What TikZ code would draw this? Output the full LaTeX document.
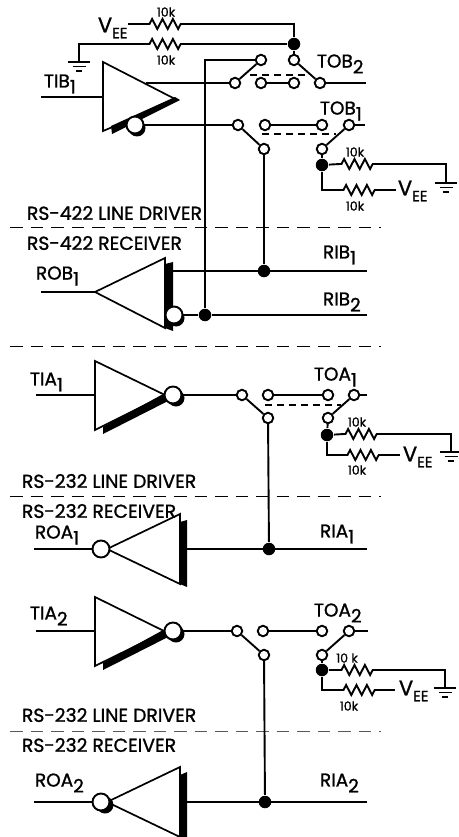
\documentclass[tikz,border=0pt]{standalone}
\usepackage{fontspec}
\setmainfont{Poppins}[FakeBold=1.2]
\usetikzlibrary{decorations.pathmorphing}
\newcommand{\lowsub}[2]{#1\raisebox{-6pt}{#2}}
\newcommand{\veelabel}{V\raisebox{-6pt}{\fontsize{15}{15}\selectfont EE}}

\begin{document}
\begin{tikzpicture}[
    x=1pt, y=-1pt,
    line width=1.9pt,
    terminal/.style={circle, draw, fill=white, inner sep=0, minimum size=10.5pt},
    jdot/.style={circle, fill=black, inner sep=0, minimum size=12.5pt},
    bubble/.style={circle, draw, fill=white, line width=1.9pt, inner sep=0, minimum size=17pt},
    shadow/.style={circle, fill=black, inner sep=0, minimum size=17pt},
    pin/.style={anchor=west, inner sep=0, font=\fontsize{18.5}{18}\selectfont},
    vee/.style={anchor=west, inner sep=0, font=\fontsize{21}{21}\selectfont},
    sect/.style={anchor=west, inner sep=0, font=\fontsize{18.8}{18}\selectfont},
    rval/.style={inner sep=0, font=\fontsize{12.5}{12}\selectfont},
    res/.style={decorate, decoration={zigzag, segment length=10.4, amplitude=5, pre length=1.5, post length=1.5}},
    gang/.style={dash pattern=on 7pt off 5pt},
    divider/.style={line width=0.9pt, dash pattern=on 12.5pt off 8pt},
    amp/.style={fill=white, line width=1.7pt, line join=miter},
    gnd/.pic={\draw (-11,0) -- (11,0) (-6.5,4.5) -- (6.5,4.5) (-3,9) -- (3,9);}
]
\useasboundingbox (0,0) rectangle (458,837);

% Section dividers
\draw[divider] (10,227.5) -- (381,227.5);
\draw[divider] (10,346.5) -- (381,346.5);
\draw[divider] (10,496) -- (381,496);
\draw[divider, black!65] (10,731) -- (381,731);

% RS-422 line driver
\coordinate (tibIn) at (41,97);
\coordinate (tibA) at (103,97);
\coordinate (tibOut) at (146,83);
\node[terminal] (tb1) at (235,83) {};
\node[terminal] (tb2) at (261,60) {};
\node[terminal] (tb3) at (261,83) {};
\node[terminal] (tb4) at (294,83) {};
\node[terminal] (tb5) at (294,60) {};
\node[terminal] (tb6) at (320,83) {};
\node[terminal] (tc1) at (238,125) {};
\node[terminal] (tc2) at (265,125) {};
\node[terminal] (tc3) at (264,149) {};
\node[terminal] (tc4) at (322,125) {};
\node[terminal] (tc5) at (349,125) {};
\node[terminal] (tc6) at (322,149) {};
\node[jdot] (dvee) at (294,44) {};
\node[jdot] (dout) at (322,165) {};
\node[jdot] (drib) at (264,271) {};
\node[jdot] (drbb) at (205,315) {};
\coordinate (tobOut) at (366,83);
\coordinate (tocOut) at (365,125);
\coordinate (ribOut) at (367,271);
\coordinate (rbbOut) at (367,315);
\coordinate (rbA) at (173,271);
\coordinate (ronIn) at (41,292);
\coordinate (ronA) at (95,292);

\draw (tibIn) -- (tibA);
\draw (tibOut) -- (tb1);
\draw (tb1) -- (tb2);
\draw (tb3) -- (tb4);
\draw (tb5) -- (tb6);
\draw (tb6) -- (tobOut);
\draw (tb5) -- (dvee);
\draw (tb2) -| (drbb);
\draw (tc1) -- (tc3);
\draw (tc2) -- (tc4);
\draw (tc5) -- (tc6);
\draw (tc5) -- (tocOut);
\draw (tc6) -- (dout);
\draw (tc3) -- (drib);
\draw (rbA) -- (ribOut);
\draw (ronIn) -- (ronA);
\draw[gang] (250,75) -- (306,75);
\draw[gang] (262,134) -- (336,134);

% Top resistors
\node[vee] (veeA) at (97,28) {\veelabel};
\coordinate (rAa) at (148,24);
\coordinate (rAb) at (185,24);
\coordinate (rBa) at (148,44);
\coordinate (rBb) at (186,44);
\coordinate (gndA) at (79,62);
\draw (128,24) -- (rAa);
\draw[res] (rAa) -- (rAb);
\draw (rAb) -| (dvee);
\draw (gndA) |- (rBa);
\draw[res] (rBa) -- (rBb);
\draw (rBb) -- (dvee);
\pic at (gndA) {gnd};
\node[rval] (lA) at (166,12) {10k};
\node[rval] (lB) at (166,60) {10k};

% Resistors at TOB1
\coordinate (rCa) at (340,164);
\coordinate (rCb) at (378,164);
\coordinate (rDa) at (342,190);
\coordinate (rDb) at (380,190);
\coordinate (gndB) at (446,183);
\draw (dout) -- (rCa);
\draw[res] (rCa) -- (rCb);
\draw (rCb) -| (gndB);
\draw (dout) |- (rDa);
\draw[res] (rDa) -- (rDb);
\draw (rDb) -- (396,190);
\pic at (gndB) {gnd};
\node[vee] (veeB) at (397,191) {\veelabel};
\node[rval] (lC) at (355,152) {10k};
\node[rval] (lD) at (355,206) {10k};

% RS-422 driver body
\draw[amp] (103,62) -- (177,100) -- (103,131) -- cycle;
\fill (111,126) -- (175,97) -- (180,100) -- (112,134) -- cycle;
\node[shadow] (bbS) at (137,128) {};
\node[bubble] (bb) at (135,125) {};
\draw (bb) -- (tc1);

% RS-422 receiver body
\draw[amp] (95,292) -- (165,258) -- (165,328) -- cycle;
\fill (165,264) -- (173,262) -- (173,331) -- (165,328) -- cycle;
\node[shadow] (brS) at (176,318) {};
\node[bubble] (br) at (174,315) {};
\draw (br) -- (drbb);
\draw (drbb) -- (rbbOut);

% TIA1 channel
\node[terminal] (ta1) at (242,395) {};
\node[terminal] (ta2) at (268,395) {};
\node[terminal] (ta3) at (268,418) {};
\node[terminal] (ta4) at (328,395) {};
\node[terminal] (ta5) at (354,395) {};
\node[terminal] (ta6) at (328,418) {};
\node[jdot] (daout) at (327,435) {};
\node[jdot] (dria) at (269,549) {};
\coordinate (rEa) at (344,434);
\coordinate (rEb) at (381,434);
\coordinate (rFa) at (346,455);
\coordinate (rFb) at (383,455);
\coordinate (gndC) at (451,452);
\draw (36,395) -- (95,395);
\draw (ta1) -- (ta3);
\draw (ta2) -- (ta4);
\draw (ta5) -- (ta6);
\draw (ta5) -- (367,395);
\draw (ta6) -- (daout);
\draw (ta3) -- (dria);
\draw (34,549) -- (92,549);
\draw (187,549) -- (367,549);
\draw[gang] (265,405) -- (341,405);
\draw (daout) -- (rEa);
\draw[res] (rEa) -- (rEb);
\draw (rEb) -| (gndC);
\draw (daout) |- (rFa);
\draw[res] (rFa) -- (rFb);
\draw (rFb) -- (400,455);
\pic at (gndC) {gnd};
\node[vee] (veeC) at (402,457) {\veelabel};
\node[rval] (lE) at (357,422) {10k};
\node[rval] (lF) at (357,470) {10k};
\draw[amp] (95,361) -- (165,395) -- (95,430) -- cycle;
\fill (103,427) -- (165,393) -- (172,399) -- (103,434) -- cycle;
\node[shadow] (baS) at (176,398) {};
\node[bubble] (ba) at (173,395) {};
\draw (ba) -- (ta1);

% ROA1 receiver body
\draw[amp] (107,549) -- (180,514) -- (180,584) -- cycle;
\fill (180,522) -- (187,520) -- (187,587) -- (180,584) -- cycle;
\node[bubble] (bc) at (101,549) {};

% TIA2 channel
\node[terminal] (te1) at (237,631) {};
\node[terminal] (te2) at (263,631) {};
\node[terminal] (te3) at (264,655) {};
\node[terminal] (te4) at (322,631) {};
\node[terminal] (te5) at (349,631) {};
\node[terminal] (te6) at (322,655) {};
\node[jdot] (deout) at (322,670) {};
\node[jdot] (drie) at (265,802) {};
\coordinate (rGa) at (340,670);
\coordinate (rGb) at (376,670);
\coordinate (rHa) at (342,690);
\coordinate (rHb) at (378,690);
\coordinate (gndD) at (445,688);
\draw (36,631) -- (95,631);
\draw (te1) -- (te3);
\draw (te2) -- (te4);
\draw (te5) -- (te6);
\draw (te5) -- (368,631);
\draw (te6) -- (deout);
\draw (te3) -- (drie);
\draw (34,802) -- (92,802);
\draw (187,802) -- (367,802);
\draw (deout) -- (rGa);
\draw[res] (rGa) -- (rGb);
\draw (rGb) -| (gndD);
\draw (deout) |- (rHa);
\draw[res] (rHa) -- (rHb);
\draw (rHb) -- (395,690);
\pic at (gndD) {gnd};
\node[vee] (veeD) at (398,691) {\veelabel};
\node[rval] (lG) at (347,658) {10 k};
\node[rval] (lH) at (349,706) {10k};
\draw[amp] (95,597) -- (165,631.5) -- (95,666) -- cycle;
\fill (103,663) -- (165,629) -- (172,635) -- (103,670) -- cycle;
\node[shadow] (bdS) at (176,634) {};
\node[bubble] (bd) at (173,631) {};
\draw (bd) -- (te1);

% ROA2 receiver body
\draw[amp] (107,802) -- (180,767) -- (180,837) -- cycle;
\fill (180,775) -- (187,772) -- (187,837) -- (180,837) -- cycle;
\node[shadow] (bfS) at (105,805) {};
\node[bubble] (bf) at (101,802) {};

% Section labels
\node[sect] (s1) at (26,213) {RS-422 LINE DRIVER};
\node[sect] (s2) at (26,243) {RS-422 RECEIVER};
\node[sect] (s3) at (21,481) {RS-232 LINE DRIVER};
\node[sect] (s4) at (21,511) {RS-232 RECEIVER};
\node[sect] (s5) at (21,715) {RS-232 LINE DRIVER};
\node[sect] (s6) at (21,745) {RS-232 RECEIVER};

% Pin labels
\node[pin] (tib) at (43,84) {\lowsub{TIB}{1}};
\node[pin] (tobB) at (316,64) {\lowsub{TOB}{2}};
\node[pin] (tobA) at (319,111) {\lowsub{TOB}{1}};
\node[pin] (rob) at (35,276) {\lowsub{ROB}{1}};
\node[pin] (ribA) at (322,255) {\lowsub{RIB}{1}};
\node[pin] (ribB) at (322,302) {\lowsub{RIB}{2}};
\node[pin] (tiaA) at (29,382) {\lowsub{TIA}{1}};
\node[pin] (toaA) at (313,377) {\lowsub{TOA}{1}};
\node[pin] (roaA) at (34,535) {\lowsub{ROA}{1}};
\node[pin] (riaA) at (319,534) {\lowsub{RIA}{1}};
\node[pin] (tiaB) at (29,616) {\lowsub{TIA}{2}};
\node[pin] (toaB) at (313,613) {\lowsub{TOA}{2}};
\node[pin] (roaB) at (34,783) {\lowsub{ROA}{2}};
\node[pin] (riaB) at (319,783) {\lowsub{RIA}{2}};

\end{tikzpicture}
\end{document}
